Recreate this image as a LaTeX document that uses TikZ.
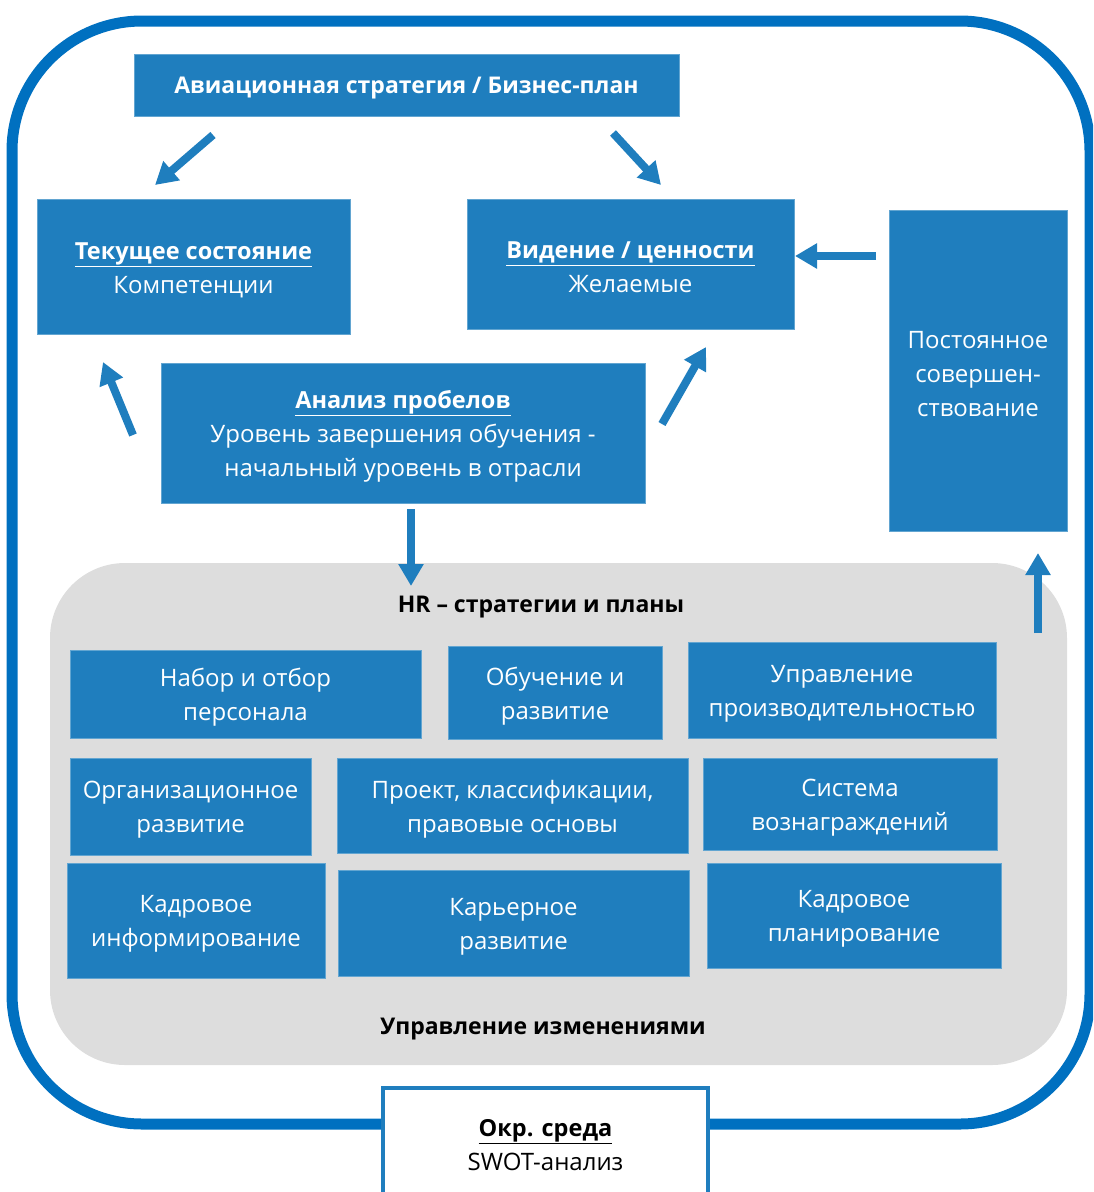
\documentclass[tikz,border=0pt]{standalone}
\usepackage{fontspec}
\setmainfont{Open Sans}
\usetikzlibrary{arrows.meta}

\definecolor{boxblue}{RGB}{31,126,190}
\definecolor{frameblue}{RGB}{0,112,192}
\definecolor{areagray}{RGB}{221,221,221}

\newbox\labelbox
\newcommand{\boxhead}[1]{{\fontsize{23.5}{34}\selectfont\bfseries\underline{#1}}}

\tikzset{
  bluebox/.style={fill=boxblue, draw=boxblue!70!white, line width=1pt, text=white,
    align=center, inner sep=0pt, font=\fontsize{24}{34}\selectfont,
    execute at begin node={\setbox\labelbox=\hbox\bgroup},
    execute at end node={\egroup\vrule height \dimexpr\ht\labelbox+7pt\relax depth \dp\labelbox width 0pt\box\labelbox}},
  envbox/.style={fill=white, draw=boxblue, line width=4pt, text=black,
    align=center, inner sep=0pt, font=\fontsize{24}{34}\selectfont},
  bigarrow/.style={draw=boxblue, line width=8pt,
    -{Triangle[width=24pt,length=22pt]}},
  headline/.style={font=\fontsize{23}{34}\selectfont\bfseries, text=black}
}

\begin{document}
\begin{tikzpicture}[x=1pt,y=-1pt]
\useasboundingbox (0,0) rectangle (1093,1192);
\clip (0,0) rectangle (1093,1192);

% outer frame and HR area
\draw [frameblue, line width=11pt, rounded corners=130pt] (12,21) rectangle (1090,1124);
\fill [areagray, rounded corners=75pt] (50,563) rectangle (1067,1065);

\node [bluebox, minimum width=545, minimum height=62, font=\fontsize{23}{34}\selectfont\bfseries] (strat) at (406.5,85) {Авиационная стратегия / Бизнес-план};
\node [bluebox, minimum width=313, minimum height=135] (cur) at (193.5,266.5) {\boxhead{Текущее состояние}\\Компетенции};
\node [bluebox, minimum width=327, minimum height=130] (vis) at (630.5,264) {\boxhead{Видение / ценности}\\Желаемые};
\node [bluebox, minimum width=178, minimum height=321] (impr) at (978,370.5) {Постоянное\\совершен-\\ствование};
\node [bluebox, minimum width=484, minimum height=140] (gap) at (403,433) {\boxhead{Анализ пробелов}\\Уровень завершения обучения -\\начальный уровень в отрасли};

\node [headline] (hr) at (541,607) {HR – стратегии и планы};
\node [headline] (chg) at (543,1029) {Управление изменениями};

% HR boxes
\node [bluebox, minimum width=351, minimum height=88] (recr) at (245.5,694) {Набор и отбор\\персонала};
\node [bluebox, minimum width=214, minimum height=93] (train) at (555,692.5) {Обучение и\\развитие};
\node [bluebox, minimum width=308, minimum height=96] (perf) at (842,690) {Управление\\производительностью};
\node [bluebox, minimum width=241, minimum height=97] (org) at (190.5,806.5) {Организационное\\развитие};
\node [bluebox, minimum width=351, minimum height=95] (proj) at (512.5,805.5) {Проект, классификации,\\правовые основы};
\node [bluebox, minimum width=294, minimum height=92] (rew) at (850,804) {Система\\вознаграждений};
\node [bluebox, minimum width=258, minimum height=115] (info) at (196,920.5) {Кадровое\\информирование};
\node [bluebox, minimum width=351, minimum height=106] (car) at (513.5,923) {Карьерное\\развитие};
\node [bluebox, minimum width=294, minimum height=105] (plan) at (854,915.5) {Кадровое\\планирование};

\node [envbox, minimum width=325, minimum height=114] (env) at (545.5,1145) {\boxhead{Окр. среда}\\SWOT-анализ};

% arrow ends
\coordinate (a1s) at (213,135);  \coordinate (a1e) at (155,185);
\coordinate (a2s) at (613,133);  \coordinate (a2e) at (661,185);
\coordinate (a3s) at (133,435);  \coordinate (a3e) at (103,362);
\coordinate (a4s) at (662,424);  \coordinate (a4e) at (706,347);
\coordinate (a5s) at (411,509);  \coordinate (a5e) at (411,586);
\coordinate (a6s) at (876,256);  \coordinate (a6e) at (795,256);
\coordinate (a7s) at (1038,633); \coordinate (a7e) at (1038,553);

\foreach \s/\e in {a1s/a1e,a2s/a2e,a3s/a3e,a4s/a4e,a5s/a5e,a6s/a6e,a7s/a7e}
  \draw [bigarrow] (\s) -- (\e);
\end{tikzpicture}
\end{document}
